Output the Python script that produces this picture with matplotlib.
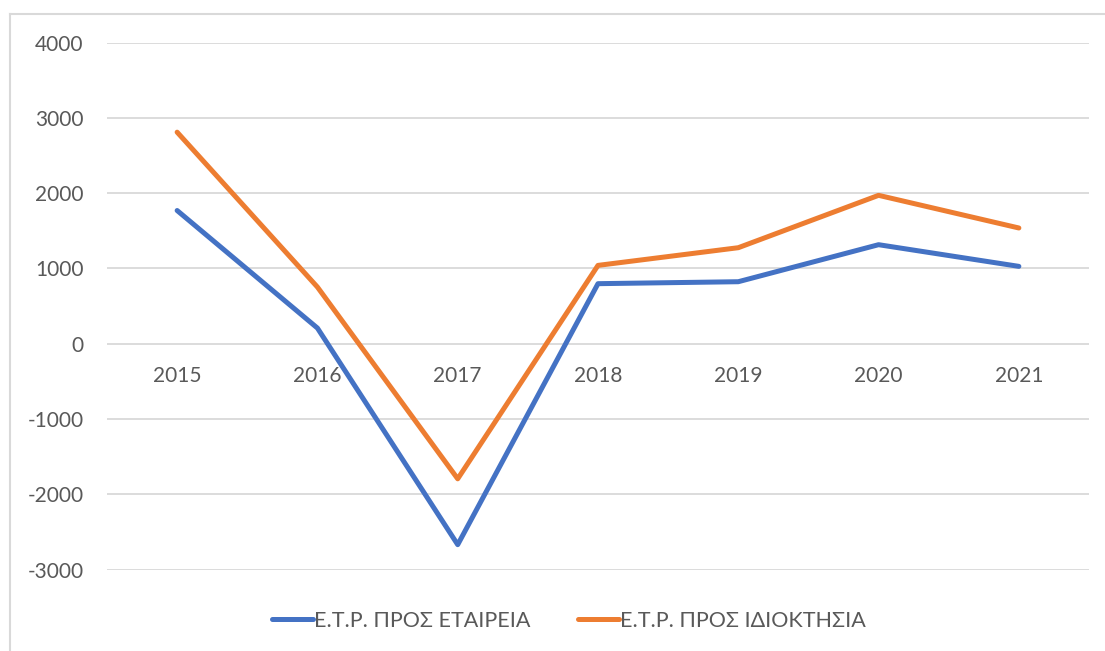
import matplotlib
matplotlib.use("Agg")
import matplotlib.pyplot as plt

years = ["2015", "2016", "2017", "2018", "2019", "2020", "2021"]
etaireia = [1770, 208, -2670, 798, 824, 1316, 1028]
idioktisia = [2811, 753, -1795, 1041, 1276, 1972, 1538]
series_labels = ["Ε.Τ.Ρ. ΠΡΟΣ ΕΤΑΙΡΕΙΑ", "Ε.Τ.Ρ. ΠΡΟΣ ΙΔΙΟΚΤΗΣΙΑ"]
yticks = [-3000, -2000, -1000, 0, 1000, 2000, 3000, 4000]

plt.rcParams['font.family'] = ['Lato', 'DejaVu Sans']
W, H = 1105, 651
fig = plt.figure(figsize=(W/100, H/100), dpi=100)
fig.patch.set_facecolor("white")

# outer chart border (top and left visible)
fig.add_artist(plt.Line2D([10/W, 10/W], [0, 1-14/H], color="#D9D9D9", lw=1.5, transform=fig.transFigure))
fig.add_artist(plt.Line2D([10/W, 1], [1-14/H, 1-14/H], color="#D9D9D9", lw=1.5, transform=fig.transFigure))

ax = fig.add_axes([107/W, 1-569.5/H, 982/W, (569.5-42.7)/H])
x = list(range(len(years)))
ax.plot(x, etaireia, color="#4472C4", lw=3.6, solid_capstyle="round", solid_joinstyle="round", label=series_labels[0], zorder=3)
ax.plot(x, idioktisia, color="#ED7D31", lw=3.6, solid_capstyle="round", solid_joinstyle="round", label=series_labels[1], zorder=3)

ax.set_xlim(-0.5, len(years)-0.5)
ax.set_ylim(-3000, 4000)
ax.set_yticks(yticks)
ax.set_yticklabels([str(v) for v in yticks])
ax.yaxis.grid(True, color="#D9D9D9", lw=1.3)
ax.set_axisbelow(True)
for s in ["top", "right", "left"]:
    ax.spines[s].set_visible(False)
ax.spines["bottom"].set_position(("data", 0))
ax.spines["bottom"].set_visible(False)
ax.set_xticks(x)
ax.set_xticklabels(years)
ax.tick_params(axis="x", length=0, pad=16, labelsize=15, labelcolor="#595959")
ax.tick_params(axis="y", length=0, pad=17, labelsize=15, labelcolor="#595959")

leg = fig.legend(loc="center", bbox_to_anchor=(0.515, 1-621/H), ncol=2, frameon=False,
                 fontsize=15.5, handlelength=1.9, columnspacing=2.2, handletextpad=0.05)
for t in leg.get_texts():
    t.set_color("#595959")

fig.savefig("out.png", dpi=100)
